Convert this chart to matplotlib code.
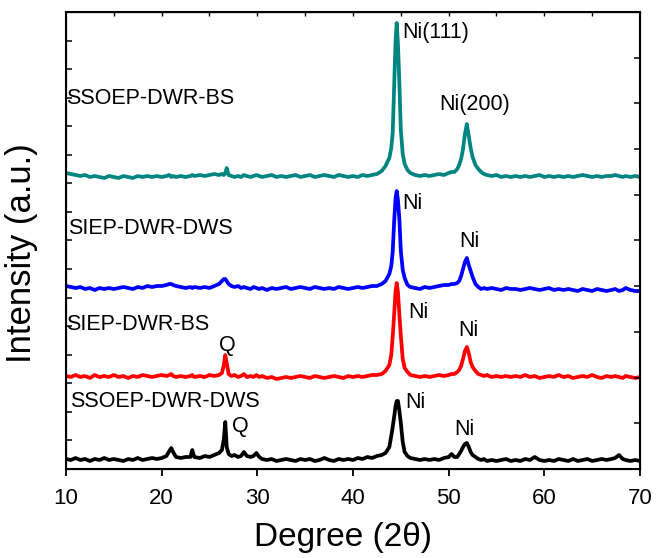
import numpy as np
import matplotlib
matplotlib.use("Agg")
import matplotlib.pyplot as plt

plt.rcParams["font.family"] = ["Liberation Sans", "DejaVu Sans"]

# 2-theta grid (deg)
two_theta = [
    10.0, 10.5, 11.0, 11.5, 12.0, 12.5, 13.0, 13.5, 14.0, 14.5,
    15.0, 15.5, 16.0, 16.5, 17.0, 17.5, 18.0, 18.5, 19.0, 19.5,
    20.0, 20.5, 20.8, 21.0, 21.2, 21.5, 22.0, 22.5, 23.0, 23.2,
    23.4, 24.0, 24.5, 25.0, 25.5, 26.0, 26.3, 26.5, 26.65, 26.8,
    27.0, 27.3, 27.6, 28.0, 28.3, 28.6, 28.9, 29.3, 29.6, 29.9,
    30.2, 30.5, 31.0, 31.5, 32.0, 32.5, 33.0, 33.5, 34.0, 34.5,
    35.0, 35.5, 36.0, 36.5, 37.0, 37.5, 38.0, 38.5, 39.0, 39.5,
    40.0, 40.5, 41.0, 41.5, 42.0, 42.5, 43.0, 43.4, 43.8, 44.0,
    44.15, 44.3, 44.45, 44.57, 44.7, 44.85, 45.0, 45.2, 45.4, 45.7,
    46.0, 46.5, 47.0, 47.5, 48.0, 48.5, 49.0, 49.5, 50.0, 50.3,
    50.6, 50.9, 51.1, 51.3, 51.5, 51.7, 51.9, 52.1, 52.3, 52.5,
    52.8, 53.1, 53.4, 53.7, 54.0, 54.5, 55.0, 55.5, 56.0, 56.5,
    57.0, 57.5, 58.0, 58.5, 59.0, 59.5, 60.0, 60.5, 61.0, 61.5,
    62.0, 62.5, 63.0, 63.5, 64.0, 64.5, 65.0, 65.5, 66.0, 66.5,
    67.0, 67.4, 67.8, 68.2, 68.5, 69.0, 69.5, 70.0,
]

ssoep_dwr_dws = [
    10, 9, 11, 9, 10, 8, 10, 9, 11, 9,
    10, 9, 8, 10, 9, 11, 9, 10, 11, 10,
    11, 13, 18, 21, 17, 12, 11, 12, 12, 19,
    12, 11, 13, 12, 14, 16, 19, 30, 47, 22,
    15, 13, 14, 12, 13, 17, 13, 12, 13, 16,
    12, 10, 9, 10, 8, 9, 10, 9, 8, 10,
    9, 10, 8, 9, 11, 9, 8, 10, 9, 10,
    9, 11, 10, 12, 11, 13, 14, 16, 22, 33,
    42, 52, 63, 68, 68, 58, 46, 27, 17, 13,
    11, 10, 9, 10, 9, 10, 9, 11, 12, 15,
    12, 12, 15, 18, 22, 25, 26, 22, 17, 14,
    12, 10, 9, 10, 8, 9, 8, 9, 10, 8,
    9, 8, 10, 9, 12, 9, 8, 9, 8, 10,
    9, 8, 10, 8, 9, 10, 8, 9, 10, 9,
    10, 11, 14, 10, 9, 8, 9, 8,
]

siep_dwr_bs = [
    11, 10, 12, 10, 11, 9, 12, 10, 11, 10,
    12, 10, 11, 9, 11, 10, 12, 11, 10, 11,
    12, 11, 12, 13, 11, 10, 11, 10, 11, 12,
    10, 11, 10, 12, 11, 12, 14, 22, 32, 24,
    13, 11, 12, 10, 11, 13, 10, 11, 10, 12,
    10, 11, 9, 10, 8, 9, 10, 9, 10, 11,
    10, 9, 11, 10, 9, 10, 11, 10, 9, 11,
    10, 11, 10, 11, 12, 12, 13, 16, 22, 32,
    50, 72, 96, 104, 95, 72, 51, 28, 19, 15,
    12, 11, 10, 11, 10, 11, 12, 11, 12, 13,
    13, 15, 17, 21, 28, 36, 40, 34, 25, 20,
    16, 13, 12, 11, 12, 10, 11, 10, 11, 10,
    11, 10, 12, 10, 11, 9, 10, 11, 10, 12,
    10, 11, 9, 10, 11, 10, 12, 10, 9, 11,
    10, 11, 10, 9, 11, 10, 9, 10,
]

siep_dwr_dws = [
    12, 11, 10, 11, 9, 10, 8, 10, 9, 10,
    9, 10, 11, 10, 9, 11, 10, 12, 11, 12,
    12, 13, 14, 14, 13, 12, 11, 10, 11, 10,
    11, 10, 11, 10, 12, 14, 17, 19, 19, 17,
    14, 12, 11, 12, 10, 11, 10, 9, 11, 10,
    9, 10, 8, 10, 9, 10, 11, 9, 10, 11,
    10, 9, 11, 10, 9, 10, 9, 11, 10, 9,
    10, 11, 10, 11, 12, 12, 14, 17, 24, 32,
    46, 76, 100, 107, 98, 78, 47, 28, 20, 13,
    11, 10, 9, 11, 10, 11, 12, 13, 13, 14,
    14, 15, 17, 22, 29, 36, 40, 33, 27, 21,
    14, 11, 9, 10, 9, 10, 9, 8, 10, 9,
    9, 8, 9, 10, 9, 8, 9, 10, 8, 9,
    8, 9, 8, 7, 9, 8, 7, 9, 8, 7,
    8, 9, 7, 8, 10, 8, 7, 7,
]

ssoep_dwr_bs = [
    13, 12, 11, 10, 11, 9, 10, 9, 8, 10,
    9, 8, 10, 9, 8, 10, 9, 10, 9, 10,
    9, 10, 11, 9, 10, 9, 10, 9, 10, 11,
    10, 11, 10, 11, 12, 11, 12, 11, 13, 18,
    11, 10, 9, 10, 9, 11, 10, 9, 10, 11,
    10, 9, 10, 11, 9, 10, 9, 10, 11, 9,
    10, 11, 9, 10, 11, 10, 9, 11, 10, 9,
    10, 9, 11, 10, 11, 12, 15, 20, 28, 38,
    53, 100, 145, 163, 142, 102, 56, 32, 22, 16,
    13, 11, 10, 11, 10, 11, 12, 11, 13, 14,
    14, 17, 21, 27, 37, 52, 62, 50, 38, 29,
    21, 17, 14, 12, 11, 10, 11, 9, 10, 9,
    10, 9, 10, 9, 10, 11, 9, 10, 9, 10,
    9, 10, 9, 10, 11, 10, 9, 10, 9, 10,
    10, 11, 10, 9, 10, 9, 10, 9,
]

samples = ["SSOEP-DWR-DWS", "SIEP-DWR-BS", "SIEP-DWR-DWS", "SSOEP-DWR-BS"]
series = [ssoep_dwr_dws, siep_dwr_bs, siep_dwr_dws, ssoep_dwr_bs]
colors = ["black", "#ff0000", "#0000ff", "#008580"]
offsets = [0, 82, 171, 283]

fig = plt.figure(figsize=(6.56, 5.58), dpi=100)
ax = fig.add_axes([0.1006, 0.1595, 0.875, 0.819])

for y, c, off in zip(series, colors, offsets):
    ax.plot(two_theta, np.array(y) + off, color=c, lw=2.7, solid_joinstyle="round")

fs = 15.5
# sample names
ax.text(10.0, 370, "SSOEP-DWR-BS", fontsize=fs, va="center", ha="left")
ax.text(10.2, 240, "SIEP-DWR-DWS", fontsize=fs, va="center", ha="left")
ax.text(10.0, 144, "SIEP-DWR-BS", fontsize=fs, va="center", ha="left")
ax.text(10.4, 67, "SSOEP-DWR-DWS", fontsize=fs, va="center", ha="left")

# peak labels
ax.text(45.1, 436, "Ni(111)", fontsize=fs, va="center", ha="left")
ax.text(49.0, 364, "Ni(200)", fontsize=fs, va="center", ha="left")
ax.text(45.2, 265, "Ni", fontsize=fs, va="center", ha="left")
ax.text(51.1, 227, "Ni", fontsize=fs, va="center", ha="left")
ax.text(45.75, 156, "Ni", fontsize=fs, va="center", ha="left")
ax.text(51.0, 138, "Ni", fontsize=fs, va="center", ha="left")
ax.text(45.5, 66, "Ni", fontsize=fs, va="center", ha="left")
ax.text(50.55, 39, "Ni", fontsize=fs, va="center", ha="left")
ax.text(26.0, 123, "Q", fontsize=fs, va="center", ha="left")
ax.text(27.35, 42, "Q", fontsize=fs, va="center", ha="left")

ax.set_xlim(10, 70)
ax.set_ylim(0, 457)
ax.set_xticks(range(10, 71, 10))
ax.set_yticks(np.linspace(0, 457, 17))
ax.tick_params(axis="x", direction="out", length=5, width=1.3, labelsize=16, pad=9)
ax.tick_params(axis="y", direction="in", length=4, width=1.1, labelleft=False)
for s in ax.spines.values():
    s.set_linewidth(1.5)

right = ax.twinx()
right.set_ylim(0, 457)
right.set_yticks(np.linspace(0, 457, 11))
right.tick_params(axis="y", direction="in", length=4, width=1.1, labelright=False)

top = ax.secondary_xaxis("top")
top.set_xticks(range(15, 70, 5))
top.tick_params(direction="in", length=3, width=1.0, labeltop=False)

ax.set_xlabel("Degree (2θ)", fontsize=24)
ax.xaxis.set_label_coords(0.483, -0.117)
ax.set_ylabel("Intensity (a.u.)", fontsize=25)
ax.yaxis.set_label_coords(-0.048, 0.473)

fig.savefig("out.png", dpi=100)
